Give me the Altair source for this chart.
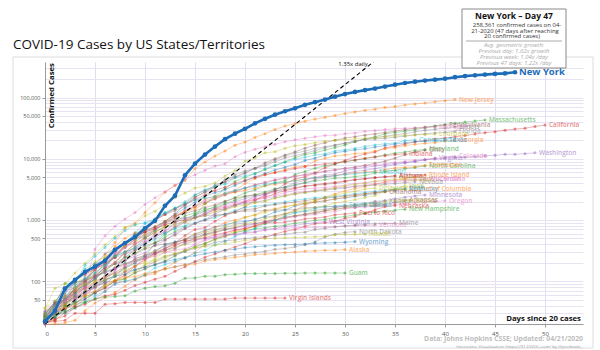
import altair as alt
import pandas as pd

# ---------------- data (cases by days since 20 confirmed cases) ----------------
NEW_YORK = [22, 33, 76, 105, 142, 173, 216, 326, 421, 525, 732, 967, 1706, 2495, 5365, 8310,
            11710, 15800, 20884, 25681, 30841, 37877, 44876, 52410, 59648, 66663, 75833, 83889,
            92506, 102987, 113833, 123160, 131815, 139875, 151061, 161779, 172348, 181026,
            189033, 195749, 203020, 214454, 223691, 230597, 236732, 242786, 247512, 258361]
NEW_JERSEY = [23, 29, 50, 69, 98, 178, 267, 427, 742, 890, 1327, 1914, 2844, 3675, 4402, 6876,
              8825, 11124, 13386, 16636, 18696, 22255, 25590, 29895, 34124, 37505, 41090, 44416,
              47437, 51027, 54588, 58151, 61850, 64584, 68824, 71030, 75317, 78467, 81420, 85301,
              88806, 92387]
MASSACHUSETTS = [28, 41, 92, 95, 108, 123, 138, 164, 197, 218, 256, 413, 525, 646, 777, 1159, 1838,
                 2417, 3240, 4257, 4955, 5752, 6620, 7738, 8966, 10402, 11736, 12500, 13837, 15202,
                 16790, 18941, 20974, 22860, 25475, 26867, 28163, 29918, 32181, 34402, 36372, 38077,
                 39643, 41199, 42944]
CALIFORNIA = [21, 25, 35, 51, 59, 81, 95, 101, 144, 177, 221, 282, 340, 426, 557, 698, 751, 952, 1177,
              1364, 1642, 2108, 2538, 2998, 3899, 4657, 5095, 5852, 7138, 8210, 9399, 10773, 12004,
              12837, 15034, 16019, 17351, 18897, 19710, 21081, 21706, 22795, 23931, 25356, 26686,
              27677, 29157, 30491, 31431, 33686, 35396]
WASHINGTON = [27, 39, 70, 78, 102, 122, 136, 162, 267, 366, 442, 568, 642, 904, 1076, 1187, 1376, 1524,
              1793, 1996, 2221, 2469, 2580, 3207, 3477, 4030, 4465, 4923, 5432, 5608, 6389, 6846, 7247,
              7591, 7984, 8384, 8682, 9097, 9608, 9887, 10224, 10411, 10609, 10799, 11152, 11445,
              11790, 11802, 12114, 12494]
PENNSYLVANIA = [22, 41, 47, 66, 77, 112, 152, 206, 303, 396, 509, 698, 946, 1260, 1795, 2345, 2845,
                3432, 4155, 4963, 5805, 7016, 8570, 10017, 11510, 12980, 14853, 16631, 18300, 20128,
                21719, 22955, 24292, 25465, 26753, 28258, 29888, 31652, 32902, 33914, 35249]
ILLINOIS = [25, 32, 46, 64, 93, 105, 161, 288, 422, 585, 753, 1049, 1285, 1537, 1865, 2538, 3024, 3491,
            4596, 5057, 5994, 6980, 7695, 8904, 10357, 11256, 12262, 13549, 15078, 16422, 17887, 19180,
            20852, 22025, 23247, 24593, 25733, 27575, 29160, 30357, 31508, 33059]
MICHIGAN = [25, 33, 53, 65, 83, 334, 552, 788, 1037, 1329, 1793, 2296, 2877, 3657, 4650, 5488, 6498,
            7615, 8282, 10791, 12744, 14225, 15718, 17221, 18970, 20346, 21504, 22783, 23993, 24244,
            25635, 26422, 27985, 28868, 30023, 30791, 31424, 31638, 32000, 32967]
FLORIDA = [28, 35, 50, 76, 100, 155, 216, 314, 417, 563, 659, 1004, 1227, 1412, 1682, 2355, 2900, 3763,
           4246, 5473, 6338, 6955, 8010, 9585, 11111, 12350, 13324, 14747, 15698, 16826, 17968, 19355,
           20601, 21019, 21628, 22511, 23340, 24759, 25492, 26314, 27059, 27869]
LOUISIANA = [36, 77, 91, 136, 196, 280, 392, 537, 763, 837, 1172, 1388, 1795, 2305, 2746, 3315, 3540,
             4025, 5237, 6424, 9150, 10297, 12496, 13010, 14867, 16284, 17030, 18283, 19253, 20014,
             20595, 21016, 21518, 21951, 23118, 23580, 23928, 24523, 24854, 25258]
CONNECTICUT = [26, 41, 68, 96, 159, 194, 223, 327, 415, 618, 875, 1012, 1291, 1524, 1993, 2571, 3128,
               3557, 3824, 4914, 5276, 5675, 6906, 7781, 8781, 9784, 10538, 11510, 12035, 13381, 13989,
               14755, 15884, 16809, 17550, 17962, 19815, 20360]
GEORGIA = [23, 31, 42, 66, 99, 121, 146, 199, 287, 420, 507, 620, 800, 1097, 1387, 1643, 2198, 2446,
           2683, 3032, 3929, 4748, 5444, 5967, 6647, 7314, 7558, 9156, 10189, 11051, 11483, 12159, 12452,
           13315, 14578, 15260, 16368, 17194, 17841, 18301, 19407, 19881]
TEXAS = [24, 43, 57, 72, 85, 110, 173, 260, 394, 581, 627, 759, 956, 1229, 1563, 1937, 2455, 2792, 3147,
         3666, 4355, 5069, 5734, 6568, 7276, 8043, 9353, 10230, 11426, 12561, 13220, 13906, 14624,
         15492, 16455, 17371, 18260, 18923, 19458, 19751, 20196]
MARYLAND = [26, 37, 41, 60, 85, 108, 149, 193, 244, 288, 349, 423, 580, 774, 992, 1239, 1413, 1660,
            1986, 2331, 2758, 3125, 3609, 4045, 4371, 5529, 6185, 6968, 7694, 8225, 8936, 9472, 10032,
            10784, 11572, 12308, 12830, 13684, 14193]
INDIANA = [24, 30, 39, 56, 79, 126, 201, 259, 365, 477, 645, 981, 1232, 1514, 1786, 2159, 2565, 3039,
           3437, 3953, 4411, 4944, 5507, 5943, 6351, 6907, 7435, 7928, 8236, 8527, 8955, 9542, 10154,
           10641, 11210, 11688, 12097]
OHIO = [26, 37, 50, 67, 88, 119, 169, 247, 351, 442, 564, 704, 867, 1137, 1406, 1653, 1933, 2199, 2547,
        2902, 3312, 3739, 4043, 4450, 4782, 5148, 5512, 5878, 6250, 6604, 6975, 7280, 7791, 8414, 9107,
        10222, 11602, 12919, 13725]
COLORADO = [33, 45, 49, 101, 131, 160, 184, 277, 363, 475, 591, 720, 912, 1086, 1430, 1734, 2061, 2307,
            2627, 2966, 3342, 3728, 4182, 4565, 4950, 5172, 5429, 5655, 6202, 6510, 6893, 7303, 7691,
            7941, 8280, 8675, 9047, 9433, 9730, 10106, 10447, 10878]
VIRGINIA = [30, 41, 45, 51, 67, 77, 99, 152, 219, 254, 290, 391, 460, 604, 740, 890, 1020, 1250, 1484,
            1706, 2012, 2407, 2637, 2878, 3333, 3645, 4042, 4509, 5077, 5274, 5747, 6182, 6500, 6889,
            7491, 8053, 8542, 8990, 9630, 10266]
NORTH_CAROLINA = [24, 33, 38, 64, 97, 137, 184, 255, 301, 353, 504, 636, 763, 935, 1167, 1307, 1498,
                  1584, 1857, 2093, 2402, 2585, 2870, 3221, 3426, 3767, 4086, 4312, 4570, 4816, 4886,
                  5123, 5340, 5859, 6140, 6493, 6895, 7220, 7608]
TENNESSEE = [26, 39, 52, 74, 98, 154, 228, 371, 505, 615, 667, 784, 957, 1203, 1373, 1537, 1834, 2239,
             2683, 2845, 3067, 3321, 3633, 3802, 4139, 4362, 4634, 4862, 5114, 5308, 5610, 5827, 6079,
             6263, 6589, 7070, 7238, 7394, 7842]
MISSOURI = [28, 47, 73, 90, 183, 255, 356, 502, 670, 838, 903, 1031, 1327, 1581, 1834, 2113, 2291, 2367,
            2722, 3037, 3327, 3539, 3799, 4024, 4160, 4388, 4686, 4895, 5111, 5283, 5517, 5667, 5890,
            6137]
RHODE_ISLAND = [20, 20, 21, 23, 33, 44, 54, 66, 83, 106, 124, 132, 165, 203, 239, 294, 408, 488, 566,
                657, 711, 806, 922, 1082, 1229, 1450, 1727, 2015, 2349, 2665, 2976, 3251, 3529, 3838,
                4177, 4491, 4706, 5090, 5500]
ARIZONA = [20, 27, 45, 78, 104, 152, 235, 326, 401, 508, 665, 773, 919, 1157, 1289, 1413, 1598, 1769,
           2019, 2269, 2456, 2575, 2726, 3018, 3112, 3393, 3542, 3705, 3809, 3964, 4234, 4511, 4724,
           4933, 5068, 5251]
ALABAMA = [29, 46, 78, 106, 131, 157, 196, 242, 386, 538, 639, 720, 830, 947, 999, 1077, 1233, 1495,
           1614, 1796, 1968, 2169, 2328, 2703, 3008, 3262, 3583, 3734, 3953, 4113, 4345, 4571, 4712,
           4888, 5079, 5231]
SOUTH_CAROLINA = [28, 33, 47, 60, 81, 125, 171, 196, 298, 342, 424, 507, 660, 774, 925, 1083, 1293,
                  1554, 1700, 1917, 2049, 2232, 2417, 2552, 2792, 3065, 3211, 3320, 3391, 3553, 3656,
                  3931, 4086, 4246, 4377, 4439, 4585, 4608]
WISCONSIN = [27, 32, 47, 72, 106, 155, 206, 281, 381, 416, 457, 585, 707, 842, 989, 1112, 1221, 1351,
             1550, 1730, 1916, 2112, 2267, 2440, 2578, 2756, 2885, 3068, 3213, 3341, 3428, 3555, 3721,
             3875, 4053, 4199, 4346, 4499, 4620]
NEVADA = [24, 45, 55, 85, 109, 161, 190, 245, 278, 321, 420, 535, 621, 738, 920, 1113, 1279, 1458, 1514,
          1742, 1836, 1953, 2087, 2318, 2456, 2700, 2836, 2971, 3088, 3211, 3321, 3524, 3626, 3728, 3830,
          3937, 4081, 4208]
IOWA = [22, 23, 38, 44, 45, 68, 90, 105, 124, 145, 179, 235, 298, 336, 424, 497, 549, 614, 699, 786, 868,
        946, 1048, 1145, 1270, 1388, 1510, 1587, 1710, 1899, 1995, 2141, 2332, 2513, 2902, 3159, 3641]
MISSISSIPPI = [21, 34, 50, 80, 140, 207, 249, 320, 377, 485, 579, 663, 758, 847, 937, 1073, 1177, 1358,
               1455, 1638, 1738, 1915, 2003, 2260, 2469, 2642, 2781, 2942, 3087, 3360, 3624, 3793, 3974,
               4274, 4512, 4716]
KENTUCKY = [21, 26, 35, 47, 63, 87, 103, 124, 163, 197, 248, 302, 394, 439, 480, 591, 680, 770, 831, 917,
            955, 1008, 1149, 1346, 1452, 1693, 1840, 1963, 2048, 2210, 2291, 2429, 2522, 2707, 2960,
            3050, 3192]
DISTRICT_OF_COLUMBIA = [22, 31, 40, 71, 77, 98, 116, 137, 183, 231, 267, 304, 342, 401, 495, 586, 653,
                        757, 902, 998, 1097, 1211, 1440, 1523, 1660, 1778, 1875, 1955, 2058, 2197, 2350,
                        2476, 2666, 2793, 2927, 3098, 3206]
UTAH = [29, 39, 51, 78, 112, 136, 181, 257, 298, 346, 402, 480, 602, 719, 806, 887, 1012, 1092, 1255,
        1428, 1605, 1675, 1738, 1846, 1976, 2101, 2207, 2303, 2363, 2412, 2542, 2683, 2805, 2931, 3069,
        3213, 3296]
OKLAHOMA = [29, 44, 49, 53, 67, 81, 106, 164, 248, 322, 377, 429, 481, 565, 719, 879, 988, 1159, 1252,
            1327, 1472, 1524, 1684, 1794, 1868, 1970, 2069, 2184, 2263, 2357, 2465, 2570, 2680, 2807,
            2894]
DELAWARE = [30, 38, 45, 47, 68, 104, 119, 130, 163, 214, 232, 264, 319, 368, 393, 450, 593, 673, 783,
            928, 1116, 1209, 1326, 1479, 1625, 1761, 1926, 2070, 2323, 2538, 2745, 2931, 3200, 3308]
MINNESOTA = [21, 35, 54, 60, 77, 89, 115, 138, 169, 235, 262, 287, 346, 398, 441, 503, 576, 629, 689,
             742, 789, 865, 935, 986, 1069, 1154, 1242, 1336, 1427, 1621, 1650, 1695, 1809, 1912, 2071,
             2213, 2356, 2470, 2567]
KANSAS = [21, 34, 44, 55, 65, 82, 98, 126, 168, 202, 261, 319, 372, 428, 482, 552, 629, 698, 747, 845,
          900, 1046, 1106, 1166, 1268, 1337, 1376, 1440, 1504, 1588, 1705, 1791, 1849, 2025, 2048]
NEW_MEXICO = [23, 28, 35, 43, 57, 65, 83, 100, 112, 136, 191, 208, 237, 281, 315, 363, 403, 495, 543,
              624, 686, 794, 865, 989, 1091, 1174, 1245, 1345, 1407, 1484, 1597, 1711, 1798, 1845, 1971,
              2072]
ARKANSAS = [22, 33, 62, 96, 100, 122, 165, 192, 219, 280, 335, 381, 409, 426, 473, 523, 584, 643, 704,
            743, 837, 875, 946, 1000, 1119, 1171, 1228, 1280, 1410, 1498, 1569, 1620, 1695, 1744, 1777,
            1923, 2081]
OREGON = [21, 30, 36, 39, 65, 66, 75, 88, 114, 137, 161, 191, 209, 266, 316, 414, 479, 548, 606, 690,
          736, 826, 899, 999, 1068, 1132, 1181, 1239, 1321, 1371, 1527, 1584, 1633, 1663, 1736, 1785,
          1844, 1910, 1956, 2002, 2059]
NEBRASKA = [21, 24, 27, 38, 42, 51, 58, 61, 71, 85, 96, 108, 120, 145, 172, 210, 246, 279, 321, 363,
            409, 478, 523, 587, 651, 698, 791, 871, 901, 952, 1066, 1138, 1287, 1474, 1648, 1722]
NEW_HAMPSHIRE = [26, 26, 39, 44, 55, 65, 78, 101, 108, 137, 158, 187, 214, 258, 314, 367, 415, 479, 540,
                 621, 669, 715, 747, 788, 819, 885, 929, 985, 1020, 1091, 1139, 1211, 1287, 1342, 1392,
                 1447, 1491]
SOUTH_DAKOTA = [21, 28, 30, 41, 46, 58, 68, 90, 101, 108, 129, 165, 187, 212, 240, 288, 320, 393, 447,
                536, 626, 730, 868, 988, 1168, 1311, 1411, 1542, 1635, 1685, 1755]
PUERTO_RICO = [21, 23, 31, 39, 51, 64, 79, 100, 127, 174, 239, 286, 316, 378, 452, 475, 513, 573, 620,
               683, 725, 788, 897, 903, 923, 974, 1043, 1068, 1118, 1213, 1252, 1298]
IDAHO = [31, 42, 50, 73, 123, 189, 281, 339, 415, 525, 525, 669, 891, 1013, 1077, 1101, 1170, 1210,
         1232, 1353, 1396, 1407, 1426, 1453, 1464, 1472, 1587, 1609, 1655, 1668, 1672, 1736, 1766]
WEST_VIRGINIA = [20, 39, 51, 76, 96, 113, 145, 162, 191, 217, 237, 282, 324, 345, 412, 462, 502, 523,
                 577, 582, 626, 640, 702, 728, 785, 814, 865, 902, 939]
VERMONT = [22, 29, 49, 52, 75, 95, 123, 158, 184, 211, 235, 256, 293, 321, 338, 389, 461, 512, 543, 575,
           605, 628, 679, 711, 727, 748, 752, 759, 768, 779, 803, 806, 813, 816]
MAINE = [32, 42, 52, 56, 70, 89, 107, 118, 142, 155, 168, 211, 253, 275, 303, 344, 376, 432, 456, 470,
         499, 519, 537, 560, 586, 616, 633, 698, 734, 770, 796, 827, 847, 867, 875, 888]
NORTH_DAKOTA = [26, 28, 30, 36, 45, 52, 68, 94, 98, 109, 126, 142, 159, 173, 186, 207, 225, 237, 251,
                269, 278, 293, 308, 331, 341, 365, 393, 439, 528, 585, 627, 644]
HAWAII = [37, 48, 56, 77, 90, 95, 106, 120, 151, 175, 204, 224, 258, 285, 319, 351, 371, 387, 410, 435,
          465, 486, 499, 504, 511, 517, 524, 530, 541, 574, 580, 584, 586]
WYOMING = [21, 31, 34, 45, 51, 65, 90, 121, 129, 154, 171, 184, 208, 227, 243, 262, 281, 299, 319, 332,
           354, 365, 377, 387, 394, 399, 404, 415, 422, 426, 433, 443]
ALASKA = [22, 32, 36, 42, 59, 69, 85, 102, 114, 119, 133, 143, 157, 171, 185, 191, 213, 226, 235, 246,
          257, 272, 277, 285, 293, 300, 309, 314, 319, 321, 329]
GUAM = [27, 29, 32, 37, 45, 51, 55, 56, 58, 69, 77, 82, 84, 93, 112, 113, 121, 121, 128, 130, 133, 133,
        133, 133, 135, 135, 136, 136, 136, 136, 136]
VIRGIN_ISLANDS = [21, 22, 23, 30, 30, 30, 42, 43, 45, 45, 45, 45, 51, 51, 51, 51, 51, 51, 51, 53, 53,
                  53, 53, 53, 53]

# reference growth line: 1.35x daily, from 20 cases on day 0
REF_DAYS = [0, 33]
REF_CASES = [20, 400000]

X_TICKS = [0, 5, 10, 15, 20, 25, 30, 35, 40, 45, 50]
Y_LABELS = [50, 100, 500, 1000, 5000, 10000, 50000, 100000]
Y_GRID = [20, 30, 40, 50, 60, 70, 80, 90,
          100, 200, 300, 400, 500, 600, 700, 800, 900,
          1000, 2000, 3000, 4000, 5000, 6000, 7000, 8000, 9000,
          10000, 20000, 30000, 40000, 50000, 60000, 70000, 80000, 90000,
          100000, 200000, 300000]

BLUE, ORANGE, GREEN, RED, PURPLE = "#1f77b4", "#ff7f0e", "#2ca02c", "#d62728", "#9467bd"
BROWN, PINK, GRAY, OLIVE, CYAN = "#8c564b", "#e377c2", "#7f7f7f", "#bcbd22", "#17becf"

STATES = [
    ("New Jersey", NEW_JERSEY, ORANGE), ("Massachusetts", MASSACHUSETTS, GREEN),
    ("California", CALIFORNIA, RED), ("Washington", WASHINGTON, PURPLE),
    ("Pennsylvania", PENNSYLVANIA, BROWN), ("Michigan", MICHIGAN, PINK),
    ("Illinois", ILLINOIS, GRAY), ("Florida", FLORIDA, GRAY),
    ("Louisiana", LOUISIANA, OLIVE), ("Connecticut", CONNECTICUT, CYAN),
    ("Georgia", GEORGIA, ORANGE), ("Texas", TEXAS, BLUE),
    ("Maryland", MARYLAND, GREEN), ("Indiana", INDIANA, RED),
    ("Ohio", OHIO, BROWN), ("Colorado", COLORADO, PINK),
    ("Virginia", VIRGINIA, PURPLE), ("North Carolina", NORTH_CAROLINA, GREEN),
    ("Tennessee", TENNESSEE, ORANGE), ("Missouri", MISSOURI, CYAN),
    ("Rhode Island", RHODE_ISLAND, ORANGE), ("Arizona", ARIZONA, BROWN),
    ("Alabama", ALABAMA, RED), ("South Carolina", SOUTH_CAROLINA, PINK),
    ("Wisconsin", WISCONSIN, PINK), ("Nevada", NEVADA, GRAY),
    ("Iowa", IOWA, OLIVE), ("Mississippi", MISSISSIPPI, OLIVE),
    ("Kentucky", KENTUCKY, BLUE), ("District of Columbia", DISTRICT_OF_COLUMBIA, ORANGE),
    ("Utah", UTAH, CYAN), ("Oklahoma", OKLAHOMA, BROWN),
    ("Delaware", DELAWARE, OLIVE), ("Minnesota", MINNESOTA, PURPLE),
    ("Kansas", KANSAS, GRAY), ("New Mexico", NEW_MEXICO, OLIVE),
    ("Arkansas", ARKANSAS, BROWN), ("Oregon", OREGON, PINK),
    ("Nebraska", NEBRASKA, RED), ("New Hampshire", NEW_HAMPSHIRE, GREEN),
    ("South Dakota", SOUTH_DAKOTA, CYAN), ("Puerto Rico", PUERTO_RICO, RED),
    ("Idaho", IDAHO, GRAY), ("West Virginia", WEST_VIRGINIA, PURPLE),
    ("Vermont", VERMONT, PINK), ("Maine", MAINE, GRAY),
    ("North Dakota", NORTH_DAKOTA, GRAY), ("Hawaii", HAWAII, OLIVE),
    ("Wyoming", WYOMING, BLUE), ("Alaska", ALASKA, ORANGE),
    ("Guam", GUAM, GREEN), ("Virgin Islands", VIRGIN_ISLANDS, RED),
]

rows = []
for name, vals, _ in STATES:
    for d, v in enumerate(vals):
        rows.append({"state": name, "day": d, "cases": v})
df = pd.DataFrame(rows)
last = df.groupby("state", sort=False).tail(1)
ny = pd.DataFrame({"state": "New York", "day": list(range(len(NEW_YORK))), "cases": NEW_YORK})
ny_last = ny.tail(1)
ref = pd.DataFrame({"day": REF_DAYS, "cases": REF_CASES})

names = [s[0] for s in STATES]
cols = [s[2] for s in STATES]

FONT = "Open Sans"
NYBLUE = "#1d6cb8"

label_test = "indexof(" + str(Y_LABELS) + ", datum.value) >= 0"
X = alt.X("day:Q", scale=alt.Scale(domain=[0, 53.8], nice=False, zero=False),
          axis=alt.Axis(values=X_TICKS, title=None, labelFontSize=6, tickSize=3,
                        labelPadding=3, gridColor="#e2dcef"))
Y = alt.Y("cases:Q", scale=alt.Scale(type="log", domain=[20, 380000], nice=False),
          axis=alt.Axis(values=Y_GRID, title=None, labelFontSize=5.5, tickSize=3,
                        labelExpr=label_test + " ? format(datum.value, ',') : ''",
                        tickOpacity={"condition": {"test": label_test, "value": 1}, "value": 0},
                        gridColor="#e8e3f2"))
C = alt.Color("state:N", scale=alt.Scale(domain=names, range=cols), legend=None)

lines = alt.Chart(df).mark_line(strokeWidth=1, opacity=0.35).encode(x=X, y=Y, color=C, detail="state:N")
pts = alt.Chart(df).mark_circle(size=9, opacity=0.5).encode(x=X, y=Y, color=C)
labels = alt.Chart(last).mark_text(align="left", baseline="middle", dx=4, fontSize=6.5,
                                   font=FONT, fontWeight=600, opacity=0.55).encode(
    x=X, y=Y, color=C, text="state:N")
refline = alt.Chart(ref).mark_line(color="black", strokeDash=[4, 3], strokeWidth=1.1, clip=True).encode(x=X, y=Y)
ny_line = alt.Chart(ny).mark_line(color=NYBLUE, strokeWidth=2.6).encode(x=X, y=Y)
ny_pts = alt.Chart(ny).mark_circle(color=NYBLUE, size=22, opacity=1).encode(x=X, y=Y)
ny_lab = alt.Chart(ny_last).mark_text(align="left", baseline="middle", dx=4, fontSize=9.5,
                                      font=FONT, fontWeight="bold", color=NYBLUE).encode(
    x=X, y=Y, text="state:N")

one = alt.Data(values=[{"k": 1}])


def txt(s, x, y, **kw):
    return alt.Chart(one).mark_text(text=s, font=FONT, **kw).encode(x=alt.value(x), y=alt.value(y))


frame = alt.Chart(one).mark_rect(fill=None, stroke="#dcdcdc", strokeWidth=1).encode(
    x=alt.value(-32), x2=alt.value(548), y=alt.value(-5), y2=alt.value(286))
box = alt.Chart(one).mark_rect(fill="white", stroke="#8a8a8a", strokeWidth=1).encode(
    x=alt.value(417), x2=alt.value(521), y=alt.value(-53), y2=alt.value(6))
sep = alt.Chart(one).mark_rule(color="#aaaaaa", strokeWidth=1).encode(
    x=alt.value(421), x2=alt.value(517), y=alt.value(-21))

notes = [
    txt("COVID-19 Cases by US States/Territories", -32, -17, align="left", baseline="middle",
        fontSize=13.5, color="#111", ).properties(),
    txt("Confirmed Cases", 3, 1, align="right", baseline="top", angle=270, fontSize=7.8,
        fontWeight="bold", color="#111"),
    txt("Days since 20 cases", 536, 257, align="right", baseline="middle", fontSize=7.8,
        fontWeight="bold", color="#111"),
    txt("1.35x daily", 308, 2, align="center", baseline="middle", fontSize=6, color="#111"),
    txt("Data: Johns Hopkins CSSE; Updated: 04/21/2020", 538, 277, align="right",
        baseline="middle", fontSize=6.8, fontWeight="bold", color="#bdbdbd"),
    txt("Interactive Visualization: https://91-DIVOC.com/ by @profwade_", 538, 284.5,
        align="right", baseline="middle", fontSize=4.3, color="#9a9a9a"),
    txt("New York – Day 47", 469, -46, align="center", baseline="middle", fontSize=8.5,
        fontWeight="bold", color="#111"),
    txt("258,361 confirmed cases on 04-", 472, -37, align="center", baseline="middle",
        fontSize=6, color="#333"),
    txt("21-2020 (47 days after reaching", 470, -31.5, align="center", baseline="middle",
        fontSize=6, color="#333"),
    txt("20 confirmed cases)", 467, -26, align="center", baseline="middle", fontSize=6,
        color="#333"),
    txt("Avg. geometric growth:", 469, -17.5, align="center", baseline="middle", fontSize=6,
        color="#aaaaaa", fontStyle="italic"),
    txt("Previous day: 1.02x growth", 469, -11, align="center", baseline="middle", fontSize=6,
        color="#aaaaaa", fontStyle="italic"),
    txt("Previous week: 1.04x /day", 469, -5, align="center", baseline="middle", fontSize=6,
        color="#aaaaaa", fontStyle="italic"),
    txt("Previous 47 days: 1.22x /day", 469, 1, align="center", baseline="middle", fontSize=6,
        color="#aaaaaa", fontStyle="italic"),
]

chart = alt.layer(
    frame, lines, pts, labels, refline, ny_line, ny_pts, ny_lab, box, sep, *notes
).properties(
    width=538, height=262,
    padding={"left": 45, "top": 62, "right": 17, "bottom": 26},
    autosize=alt.AutoSizeParams(type="none"),
    background="white",
).configure_view(stroke=None).configure_axis(
    domainColor="#9a9a9a", tickColor="#9a9a9a", labelColor="#555", labelFont=FONT,
)

chart.save("out.html", embed_options={"renderer": "svg", "actions": False})
